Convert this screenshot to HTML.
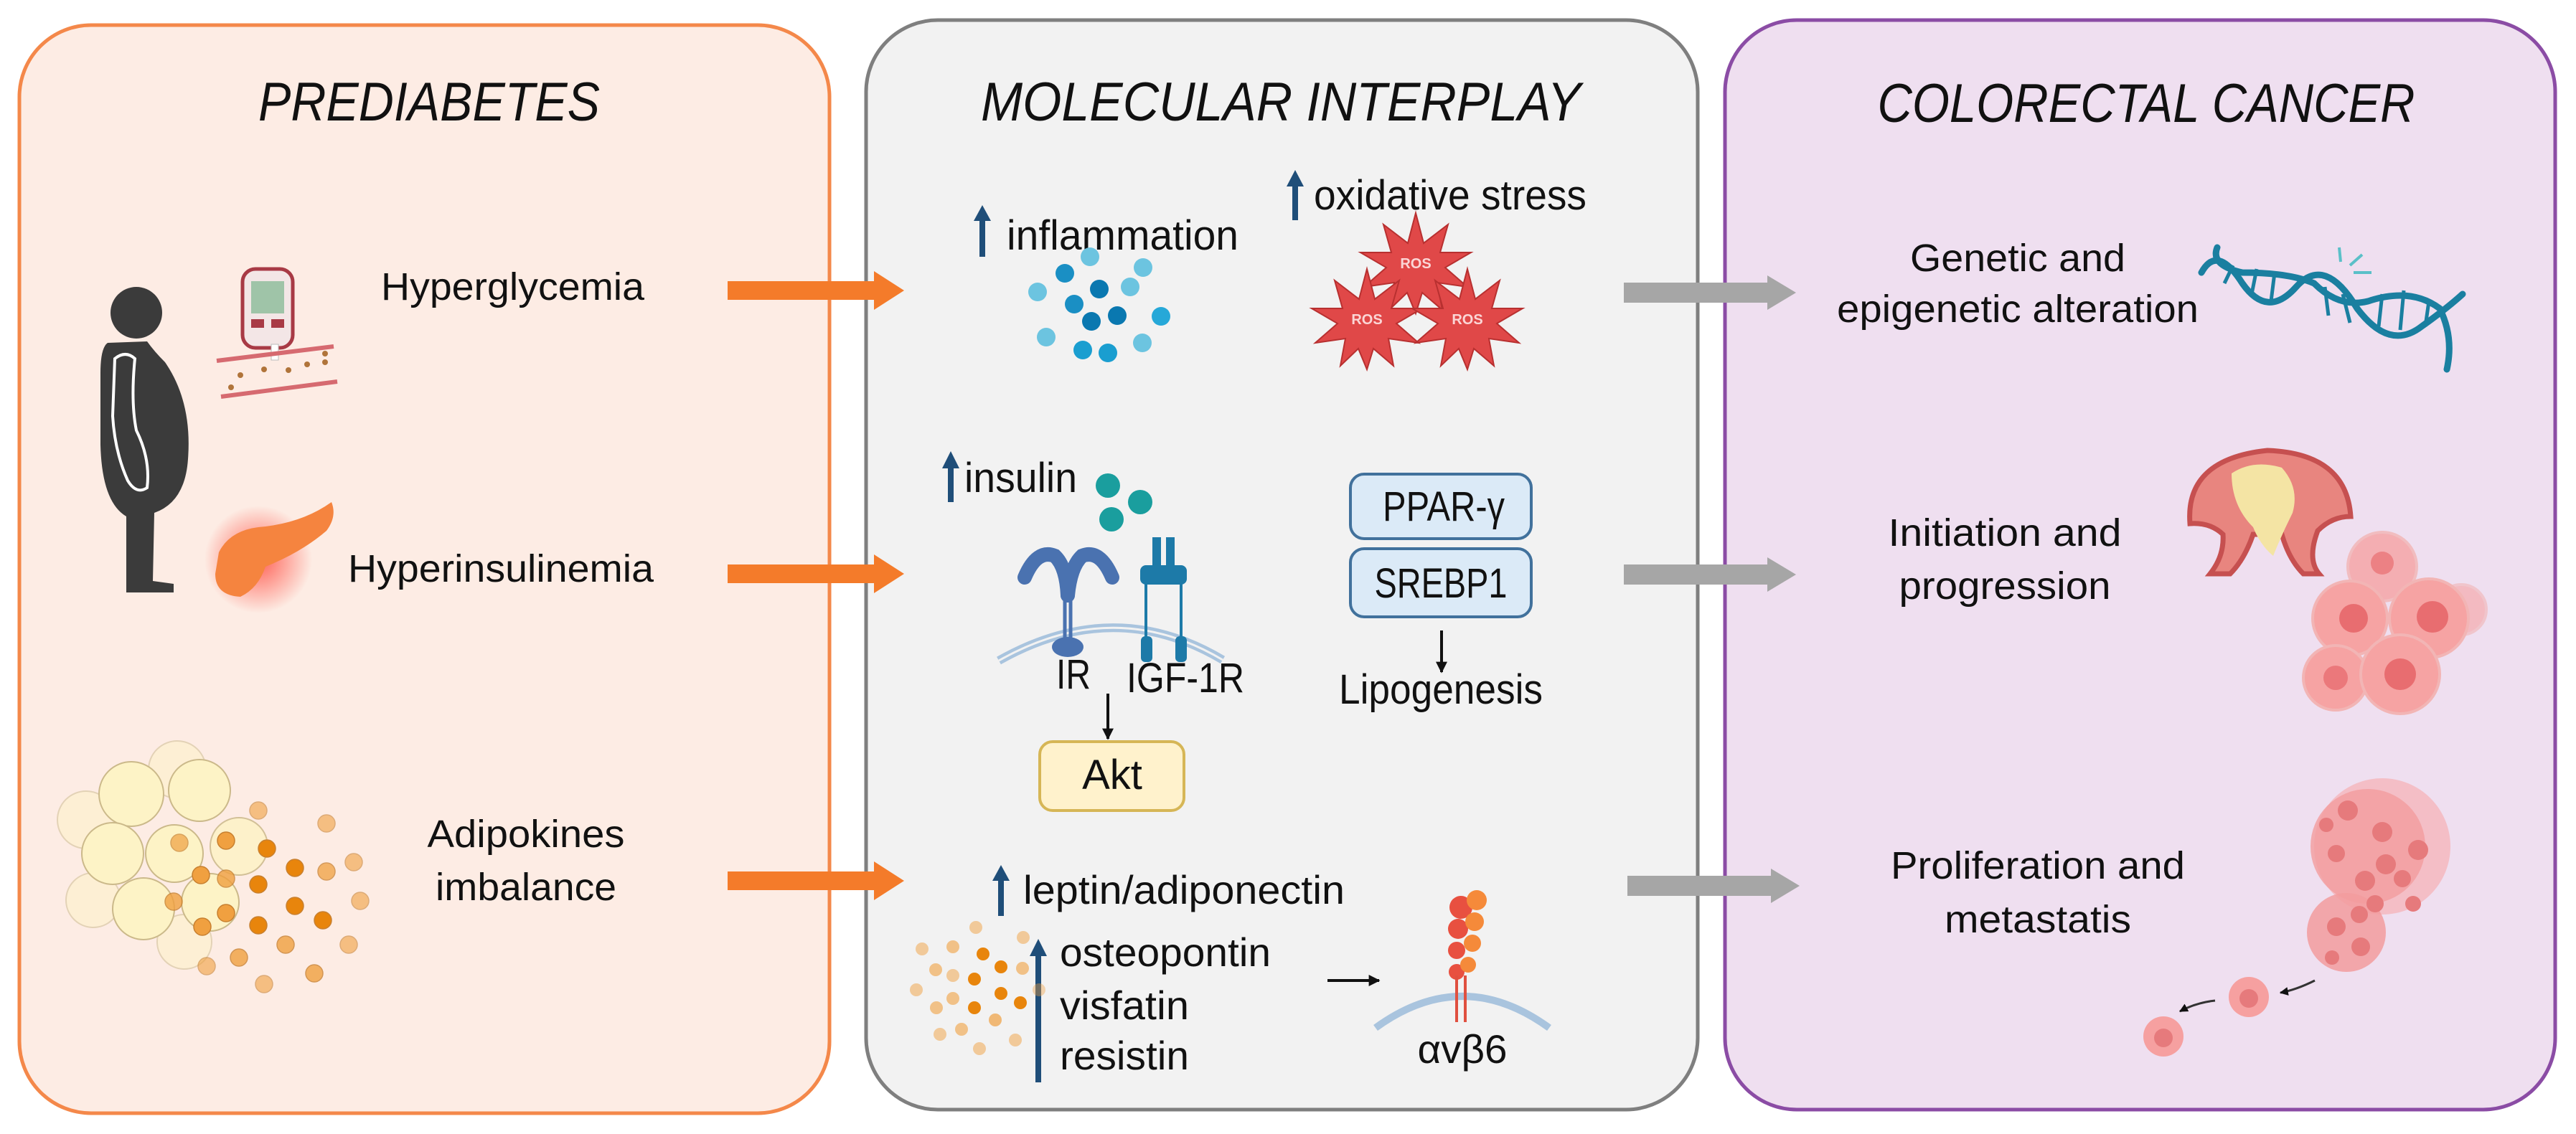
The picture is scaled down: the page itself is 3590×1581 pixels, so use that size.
<!DOCTYPE html>
<html><head><meta charset="utf-8"><style>
html,body{margin:0;padding:0;background:#fff;}
svg{display:block;}
text{font-family:"Liberation Sans",sans-serif;fill:#111;}
</style></head><body>
<svg width="3590" height="1581" viewBox="0 0 3590 1581" xmlns="http://www.w3.org/2000/svg">
<defs>
<marker id="ah" viewBox="0 0 10 10" refX="9" refY="5" markerWidth="4" markerHeight="4" orient="auto"><path d="M0,0 L10,5 L0,10 z" fill="#111"/></marker>
<radialGradient id="glow"><stop offset="0" stop-color="#ff3b2f" stop-opacity="0.8"/><stop offset="1" stop-color="#ff3b2f" stop-opacity="0"/></radialGradient>
</defs>

<!-- panels -->
<rect x="27" y="35" width="1129" height="1517" rx="100" fill="#fdece4" stroke="#f4884a" stroke-width="5"/>
<rect x="1207" y="28" width="1159" height="1519" rx="100" fill="#f2f2f2" stroke="#7f7f7f" stroke-width="5"/>
<rect x="2404" y="28" width="1157" height="1519" rx="100" fill="#efdff0" stroke="#8b4ca5" stroke-width="5"/>

<!-- titles -->
<text x="598" y="168" font-size="76" font-style="italic" text-anchor="middle" textLength="476" lengthAdjust="spacingAndGlyphs">PREDIABETES</text>
<text x="1785" y="168" font-size="76" font-style="italic" text-anchor="middle" textLength="836" lengthAdjust="spacingAndGlyphs">MOLECULAR INTERPLAY</text>
<text x="2991" y="170" font-size="76" font-style="italic" text-anchor="middle" textLength="749" lengthAdjust="spacingAndGlyphs">COLORECTAL CANCER</text>

<!-- person -->
<circle cx="190" cy="436" r="36" fill="#3b3b3b"/>
<path d="M150,478 L205,476 Q215,490 230,505 Q268,560 262,640 Q258,700 215,715 L213,810 L242,814 L242,826 L176,826 L176,720 Q142,700 140,620 L140,520 Q140,485 150,478 Z" fill="#3b3b3b"/>
<path d="M160,500 Q175,488 188,500 Q182,560 190,600 Q210,640 205,680 Q190,690 178,670 Q160,630 157,580 Z" fill="none" stroke="#fff" stroke-width="4"/>
<!-- glucometer -->
<rect x="338" y="375" width="70" height="110" rx="18" fill="#f3e6e6" stroke="#a83a45" stroke-width="5"/>
<rect x="350" y="392" width="46" height="45" fill="#9fc4a8"/>
<rect x="350" y="445" width="18" height="12" fill="#a83a45"/><rect x="378" y="445" width="18" height="12" fill="#a83a45"/>
<rect x="378" y="480" width="10" height="22" fill="#fff" stroke="#bbb"/>
<line x1="302" y1="503" x2="465" y2="483" stroke="#d66a70" stroke-width="6"/>
<line x1="308" y1="553" x2="470" y2="532" stroke="#d66a70" stroke-width="6"/>
<g fill="#b0743a"><circle cx="335" cy="523" r="4"/><circle cx="368" cy="515" r="4"/><circle cx="402" cy="516" r="4"/><circle cx="428" cy="508" r="4"/><circle cx="453" cy="505" r="4"/><circle cx="453" cy="493" r="4"/><circle cx="322" cy="540" r="4"/></g>
<!-- pancreas -->
<circle cx="360" cy="780" r="75" fill="url(#glow)"/>
<path d="M305,770 Q320,740 360,735 Q420,730 462,700 Q470,720 455,740 Q420,770 370,790 Q360,820 335,832 Q300,830 300,800 Z" fill="#f5843f"/>

<!-- fat cells -->
<g stroke="#cbb98a" stroke-width="2" fill="#fdf3c6">
<circle cx="120" cy="1143" r="40" opacity="0.5"/><circle cx="247" cy="1073" r="40" opacity="0.5"/><circle cx="130" cy="1255" r="38" opacity="0.5"/><circle cx="257" cy="1313" r="38" opacity="0.5"/>
<circle cx="183" cy="1107" r="45"/><circle cx="278" cy="1102" r="43"/><circle cx="157" cy="1190" r="43"/><circle cx="243" cy="1190" r="40"/><circle cx="333" cy="1180" r="40" opacity="0.85"/><circle cx="200" cy="1267" r="43"/><circle cx="293" cy="1258" r="40"/>
</g>
<g fill="#f0a040" stroke="#c88030" stroke-width="1.5">
<circle cx="250" cy="1175" r="12" opacity="0.7"/><circle cx="315" cy="1172" r="12"/><circle cx="372" cy="1183" r="12" fill="#e8850c"/><circle cx="280" cy="1220" r="12"/><circle cx="315" cy="1225" r="12" opacity="0.8"/><circle cx="360" cy="1233" r="12" fill="#e8850c"/><circle cx="411" cy="1210" r="12" fill="#e8850c"/><circle cx="242" cy="1257" r="12" opacity="0.8"/><circle cx="315" cy="1273" r="12"/><circle cx="282" cy="1292" r="12"/><circle cx="360" cy="1290" r="12" fill="#e8850c"/><circle cx="411" cy="1263" r="12" fill="#e8850c"/><circle cx="450" cy="1283" r="12" fill="#e8850c"/><circle cx="360" cy="1130" r="12" opacity="0.6"/><circle cx="455" cy="1148" r="12" opacity="0.6"/><circle cx="455" cy="1215" r="12" opacity="0.75"/><circle cx="493" cy="1202" r="12" opacity="0.6"/><circle cx="502" cy="1256" r="12" opacity="0.6"/><circle cx="398" cy="1317" r="12" opacity="0.8"/><circle cx="333" cy="1335" r="12" opacity="0.8"/><circle cx="288" cy="1347" r="12" opacity="0.6"/><circle cx="368" cy="1372" r="12" opacity="0.6"/><circle cx="438" cy="1357" r="12" opacity="0.8"/><circle cx="486" cy="1317" r="12" opacity="0.6"/>
</g>

<!-- left labels -->
<text x="531" y="418" font-size="54" textLength="367" lengthAdjust="spacingAndGlyphs">Hyperglycemia</text>
<text x="485" y="811" font-size="54" textLength="426" lengthAdjust="spacingAndGlyphs">Hyperinsulinemia</text>
<text x="733" y="1181" font-size="54" text-anchor="middle" textLength="275" lengthAdjust="spacingAndGlyphs">Adipokines</text>
<text x="733" y="1255" font-size="54" text-anchor="middle" textLength="252" lengthAdjust="spacingAndGlyphs">imbalance</text>

<!-- orange arrows -->
<g fill="#f47b2a">
<path d="M1014,392 L1218,392 L1218,378 L1260,405 L1218,432 L1218,418 L1014,418 Z"/>
<path d="M1014,787 L1218,787 L1218,773 L1260,800 L1218,827 L1218,813 L1014,813 Z"/>
<path d="M1014,1215 L1218,1215 L1218,1201 L1260,1228 L1218,1255 L1218,1241 L1014,1241 Z"/>
</g>
<!-- grey arrows -->
<g fill="#a6a6a6">
<path d="M2263,394 L2463,394 L2463,384 L2503,408 L2463,432 L2463,422 L2263,422 Z"/>
<path d="M2263,787 L2463,787 L2463,777 L2503,801 L2463,825 L2463,815 L2263,815 Z"/>
<path d="M2268,1221 L2468,1221 L2468,1211 L2508,1235 L2468,1259 L2468,1249 L2268,1249 Z"/>
</g>

<!-- up arrows (blue) -->
<g fill="#1f4e79">
<rect x="1365" y="305" width="8" height="53"/><path d="M1357,308 L1369,286 L1381,308 Z"/>
<rect x="1801" y="257" width="8" height="50"/><path d="M1793,260 L1805,237 L1817,260 Z"/>
<rect x="1321" y="650" width="8" height="50"/><path d="M1313,653 L1325,629 L1337,653 Z"/>
<rect x="1391" y="1225" width="8" height="52"/><path d="M1383,1228 L1395,1206 L1407,1228 Z"/>
<rect x="1443" y="1330" width="8" height="179"/><path d="M1435,1333 L1447,1309 L1459,1333 Z"/>
</g>

<!-- middle labels -->
<text x="1403" y="348" font-size="58" textLength="323" lengthAdjust="spacingAndGlyphs">inflammation</text>
<text x="1831" y="292" font-size="58" textLength="380" lengthAdjust="spacingAndGlyphs">oxidative stress</text>
<text x="1344" y="686" font-size="58" textLength="157" lengthAdjust="spacingAndGlyphs">insulin</text>
<text x="1472" y="960" font-size="58" textLength="48" lengthAdjust="spacingAndGlyphs">IR</text>
<text x="1570" y="965" font-size="58" textLength="164" lengthAdjust="spacingAndGlyphs">IGF-1R</text>
<text x="2008" y="981" font-size="58" text-anchor="middle" textLength="284" lengthAdjust="spacingAndGlyphs">Lipogenesis</text>
<text x="1426" y="1260" font-size="56" textLength="448" lengthAdjust="spacingAndGlyphs">leptin/adiponectin</text>
<text x="1477" y="1347" font-size="56" textLength="294" lengthAdjust="spacingAndGlyphs">osteopontin</text>
<text x="1477" y="1421" font-size="56" textLength="180" lengthAdjust="spacingAndGlyphs">visfatin</text>
<text x="1477" y="1491" font-size="56" textLength="180" lengthAdjust="spacingAndGlyphs">resistin</text>
<text x="2038" y="1482" font-size="56" text-anchor="middle" textLength="125" lengthAdjust="spacingAndGlyphs">αvβ6</text>

<!-- inflammation dots -->
<g>
<circle cx="1519" cy="358" r="13" fill="#6cc4e0"/><circle cx="1484" cy="381" r="13" fill="#1a8fc4"/><circle cx="1593" cy="373" r="13" fill="#6cc4e0"/><circle cx="1446" cy="407" r="13" fill="#6cc4e0"/><circle cx="1532" cy="403" r="13" fill="#0a78b0"/><circle cx="1575" cy="400" r="13" fill="#6cc4e0"/><circle cx="1497" cy="424" r="13" fill="#1a8fc4"/><circle cx="1521" cy="448" r="13" fill="#0a78b0"/><circle cx="1557" cy="440" r="13" fill="#0a78b0"/><circle cx="1618" cy="441" r="13" fill="#26a8d8"/><circle cx="1458" cy="470" r="13" fill="#6cc4e0"/><circle cx="1509" cy="488" r="13" fill="#1a9ed0"/><circle cx="1544" cy="492" r="13" fill="#1a9ed0"/><circle cx="1592" cy="478" r="13" fill="#6cc4e0"/>
</g>

<!-- ROS stars -->
<g fill="#e04848" stroke="#b83030" stroke-width="2">
<polygon points="1973,297 1984,339 2018,313 2007,352 2050,352 2014,373 2045,400 2003,394 2010,432 1982,408 1973,437 1961,408 1936,432 1943,394 1901,400 1932,373 1896,352 1939,352 1928,313 1962,339"/>
<polygon points="1905,375 1916,417 1950,391 1939,430 1982,430 1946,451 1977,478 1935,472 1942,510 1914,486 1905,515 1893,486 1868,510 1875,472 1833,478 1864,451 1828,430 1871,430 1860,391 1894,417"/>
<polygon points="2045,375 2056,417 2090,391 2079,430 2122,430 2086,451 2117,478 2075,472 2082,510 2054,486 2045,515 2033,486 2008,510 2015,472 1973,478 2004,451 1968,430 2011,430 2000,391 2034,417"/>
</g>
<g font-size="20" font-weight="bold" text-anchor="middle">
<text x="1973" y="374" style="fill:#fbd6d6">ROS</text><text x="1905" y="452" style="fill:#fbd6d6">ROS</text><text x="2045" y="452" style="fill:#fbd6d6">ROS</text>
</g>

<!-- insulin dots -->
<circle cx="1544" cy="677" r="17" fill="#1a9e9e"/><circle cx="1589" cy="700" r="17" fill="#1a9e9e"/><circle cx="1549" cy="724" r="17" fill="#1a9e9e"/>

<!-- membrane arc -->
<path d="M1392,921 Q1553,830 1704,920" fill="none" stroke="#a9c4de" stroke-width="12"/>
<path d="M1392,921 Q1553,830 1704,920" fill="none" stroke="#f2f2f2" stroke-width="3"/>
<!-- IR receptor -->
<g fill="none" stroke="#4a72b0" stroke-width="20" stroke-linecap="round">
<path d="M1428,805 Q1445,765 1470,775 Q1486,790 1488,830"/>
<path d="M1550,805 Q1533,765 1508,775 Q1492,790 1488,830"/>
</g>
<path d="M1484,825 L1484,895 M1492,825 L1492,895" stroke="#4a72b0" stroke-width="5"/>
<ellipse cx="1488" cy="902" rx="22" ry="14" fill="#4a72b0"/>
<!-- IGF-1R -->
<g fill="#1d7aa8">
<rect x="1589" y="788" width="65" height="27" rx="8"/>
<rect x="1606" y="749" width="12" height="50"/><rect x="1625" y="749" width="12" height="50"/>
<rect x="1590" y="887" width="16" height="36" rx="6"/><rect x="1638" y="887" width="16" height="36" rx="6"/>
</g>
<path d="M1597,812 L1597,890 M1646,812 L1646,890" stroke="#1d7aa8" stroke-width="4"/>

<!-- arrows black -->
<line x1="1544" y1="967" x2="1544" y2="1030" stroke="#111" stroke-width="4" marker-end="url(#ah)"/>
<line x1="2009" y1="879" x2="2009" y2="937" stroke="#111" stroke-width="4" marker-end="url(#ah)"/>
<line x1="1850" y1="1367" x2="1922" y2="1367" stroke="#111" stroke-width="4" marker-end="url(#ah)"/>

<!-- boxes -->
<rect x="1449" y="1034" width="201" height="96" rx="18" fill="#fff2cc" stroke="#d6b656" stroke-width="4"/>
<text x="1550" y="1100" font-size="58" text-anchor="middle">Akt</text>
<rect x="1882" y="661" width="252" height="90" rx="19" fill="#dbeaf7" stroke="#41719c" stroke-width="4"/>
<text x="2012" y="726" font-size="58" text-anchor="middle" textLength="170" lengthAdjust="spacingAndGlyphs">PPAR-γ</text>
<rect x="1882" y="765" width="252" height="95" rx="19" fill="#dbeaf7" stroke="#41719c" stroke-width="4"/>
<text x="2008" y="833" font-size="58" text-anchor="middle" textLength="185" lengthAdjust="spacingAndGlyphs">SREBP1</text>

<!-- adipokine dots middle -->
<g fill="#f0a040">
<circle cx="1360" cy="1293" r="9" opacity="0.5"/><circle cx="1426" cy="1307" r="9" opacity="0.5"/><circle cx="1285" cy="1323" r="9" opacity="0.5"/><circle cx="1328" cy="1320" r="9" opacity="0.6"/><circle cx="1370" cy="1330" r="9" fill="#e8850c"/><circle cx="1395" cy="1348" r="9" fill="#e8850c"/><circle cx="1304" cy="1352" r="9" opacity="0.6"/><circle cx="1328" cy="1360" r="9" opacity="0.5"/><circle cx="1358" cy="1365" r="9" fill="#e8850c"/><circle cx="1425" cy="1350" r="9" opacity="0.6"/><circle cx="1277" cy="1380" r="9" opacity="0.5"/><circle cx="1328" cy="1392" r="9" opacity="0.6"/><circle cx="1395" cy="1385" r="9" fill="#e8850c"/><circle cx="1422" cy="1398" r="9" fill="#e8850c"/><circle cx="1305" cy="1405" r="9" opacity="0.6"/><circle cx="1358" cy="1405" r="9" fill="#e8850c"/><circle cx="1387" cy="1422" r="9" opacity="0.7"/><circle cx="1340" cy="1435" r="9" opacity="0.6"/><circle cx="1310" cy="1442" r="9" opacity="0.5"/><circle cx="1415" cy="1450" r="9" opacity="0.5"/><circle cx="1365" cy="1462" r="9" opacity="0.5"/><circle cx="1448" cy="1380" r="9" opacity="0.4"/>
</g>

<!-- αvβ6 receptor -->
<path d="M1917,1433 Q2038,1345 2159,1433" fill="none" stroke="#a9c4de" stroke-width="10"/>
<g fill="#e85040"><circle cx="2036" cy="1265" r="16"/><circle cx="2032" cy="1295" r="14"/><circle cx="2030" cy="1325" r="12"/><circle cx="2030" cy="1355" r="11"/></g>
<g fill="#f58a3a"><circle cx="2058" cy="1255" r="14"/><circle cx="2055" cy="1285" r="13"/><circle cx="2052" cy="1315" r="12"/><circle cx="2046" cy="1345" r="11"/></g>
<path d="M2030,1360 L2030,1425 M2042,1360 L2042,1425" stroke="#e05040" stroke-width="4"/>

<!-- right labels -->
<text x="2812" y="378" font-size="54" text-anchor="middle" textLength="300" lengthAdjust="spacingAndGlyphs">Genetic and</text>
<text x="2560" y="449" font-size="54" textLength="504" lengthAdjust="spacingAndGlyphs">epigenetic alteration</text>
<text x="2794" y="761" font-size="54" text-anchor="middle" textLength="325" lengthAdjust="spacingAndGlyphs">Initiation and</text>
<text x="2794" y="835" font-size="54" text-anchor="middle" textLength="295" lengthAdjust="spacingAndGlyphs">progression</text>
<text x="2840" y="1225" font-size="54" text-anchor="middle" textLength="410" lengthAdjust="spacingAndGlyphs">Proliferation and</text>
<text x="2840" y="1300" font-size="54" text-anchor="middle" textLength="260" lengthAdjust="spacingAndGlyphs">metastatis</text>

<!-- DNA -->
<g fill="none" stroke="#1a7fa0" stroke-width="9" stroke-linecap="round">
<path d="M3068,380 Q3090,340 3125,395 Q3160,445 3200,400 Q3240,355 3285,430 Q3330,490 3375,455 Q3410,430 3432,410"/>
<path d="M3090,345 Q3080,370 3125,380 Q3190,380 3225,395 Q3260,430 3300,420 Q3360,400 3400,430 Q3420,470 3410,515"/>
</g>
<g stroke="#1a7fa0" stroke-width="5"><line x1="3112" y1="370" x2="3100" y2="395"/><line x1="3145" y1="375" x2="3138" y2="410"/><line x1="3170" y1="380" x2="3165" y2="420"/><line x1="3240" y1="400" x2="3245" y2="440"/><line x1="3265" y1="410" x2="3275" y2="450"/><line x1="3320" y1="410" x2="3315" y2="455"/><line x1="3350" y1="405" x2="3345" y2="460"/><line x1="3385" y1="420" x2="3380" y2="455"/></g>
<g stroke="#5ac0c8" stroke-width="4"><line x1="3260" y1="345" x2="3262" y2="365"/><line x1="3275" y1="370" x2="3292" y2="355"/><line x1="3280" y1="380" x2="3305" y2="380"/></g>

<!-- polyp -->
<path d="M3052,730 Q3045,640 3160,628 Q3270,632 3276,720 Q3250,720 3230,740 Q3215,780 3232,800 L3210,800 Q3190,780 3180,745 L3140,745 Q3128,780 3108,800 L3080,800 Q3100,775 3098,745 Q3080,728 3052,730 Z" fill="#e8857f" stroke="#c65050" stroke-width="7"/>
<path d="M3110,660 Q3140,640 3180,652 Q3205,680 3195,715 Q3180,745 3168,775 Q3150,760 3140,735 Q3110,705 3110,660 Z" fill="#f4e4a4"/>
<!-- cell cluster -->
<g fill="#f6a3a3" stroke="#f2b5b5" stroke-width="4">
<circle cx="3320" cy="790" r="48" opacity="0.8"/>
<circle cx="3430" cy="850" r="35" opacity="0.6"/>
<circle cx="3275" cy="862" r="52"/>
<circle cx="3385" cy="862" r="55"/>
<circle cx="3255" cy="945" r="45"/>
<circle cx="3345" cy="940" r="55"/>
</g>
<g fill="#e86d70"><circle cx="3320" cy="785" r="16" opacity="0.7"/><circle cx="3280" cy="862" r="20"/><circle cx="3390" cy="860" r="22"/><circle cx="3255" cy="945" r="17" opacity="0.8"/><circle cx="3345" cy="940" r="22"/></g>

<!-- metastasis cluster -->
<g>
<circle cx="3320" cy="1180" r="95" fill="#f6a8aa" opacity="0.6"/>
<circle cx="3300" cy="1180" r="80" fill="#f29c9e" opacity="0.8"/>
<circle cx="3270" cy="1300" r="55" fill="#f29c9e" opacity="0.85"/>
<g fill="#e67a7c">
<circle cx="3272" cy="1130" r="14"/><circle cx="3320" cy="1160" r="14"/><circle cx="3370" cy="1185" r="14"/><circle cx="3325" cy="1205" r="14"/><circle cx="3296" cy="1228" r="14"/><circle cx="3348" cy="1225" r="12"/><circle cx="3256" cy="1190" r="12"/><circle cx="3288" cy="1275" r="12"/><circle cx="3256" cy="1292" r="13"/><circle cx="3290" cy="1320" r="13"/><circle cx="3250" cy="1335" r="10"/><circle cx="3310" cy="1260" r="12"/><circle cx="3363" cy="1260" r="11"/><circle cx="3242" cy="1150" r="10"/>
</g>
</g>
<circle cx="3134" cy="1390" r="28" fill="#f6a0a0"/><circle cx="3134" cy="1392" r="13" fill="#e67a7c"/>
<circle cx="3015" cy="1445" r="28" fill="#f6a0a0"/><circle cx="3015" cy="1447" r="13" fill="#e67a7c"/>
<path d="M3226,1367 Q3200,1380 3178,1384" fill="none" stroke="#333" stroke-width="3" marker-end="url(#ah)"/>
<path d="M3087,1395 Q3060,1398 3038,1410" fill="none" stroke="#333" stroke-width="3" marker-end="url(#ah)"/>
</svg>
</body></html>
